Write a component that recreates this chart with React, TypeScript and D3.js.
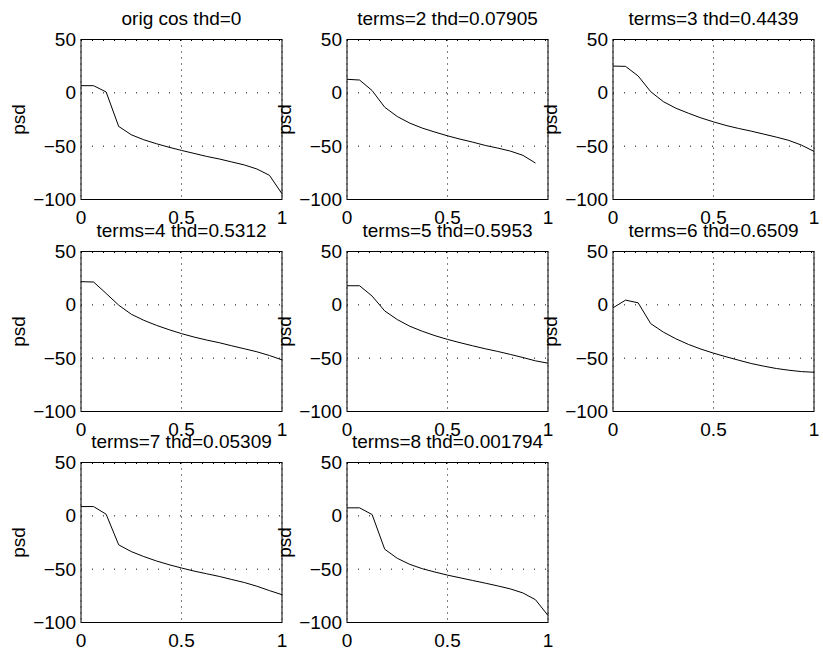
import React from "react";
import * as d3 from "d3";

const freq: number[] = [0, 0.0625, 0.125, 0.1875, 0.25, 0.3125, 0.375, 0.4375, 0.5, 0.5625, 0.625, 0.6875, 0.75, 0.8125, 0.875, 0.9375, 1];

const titles: string[] = [
  "orig cos thd=0",
  "terms=2 thd=0.07905",
  "terms=3 thd=0.4439",
  "terms=4 thd=0.5312",
  "terms=5 thd=0.5953",
  "terms=6 thd=0.6509",
  "terms=7 thd=0.05309",
  "terms=8 thd=0.001794",
];

const psdOrig: (number | null)[] = [6.7, 6.7, 0.8, -31.5, -39.3, -44, -47.7, -51, -54, -56.8, -59.6, -62, -64.8, -67.6, -71.4, -77.3, -94.7];
const psdT2: (number | null)[] = [12.7, 12, 2.1, -13.5, -22.2, -28.4, -33.1, -36.8, -40.3, -43.4, -46.2, -49.3, -51.8, -54.6, -58.6, -65.8, null];
const psdT3: (number | null)[] = [25.1, 24.8, 15.8, 1.1, -8.2, -14.4, -19.1, -23.5, -27.2, -30.6, -33.4, -35.9, -38.7, -41.5, -44.6, -49, -54.9];
const psdT4: (number | null)[] = [21.7, 21.4, 10.7, -0.3, -8.8, -14.5, -19.2, -23.3, -27, -30.2, -33, -35.5, -38.4, -41.2, -44, -47.5, -51.6];
const psdT5: (number | null)[] = [17.9, 17.9, 8.2, -5.7, -13.8, -20.1, -24.8, -28.9, -32.4, -35.5, -38.4, -41.2, -43.7, -46.5, -49.4, -52.5, -54.7];
const psdT6: (number | null)[] = [-2.8, 4.4, 1.9, -17.6, -25.5, -31.8, -37.1, -41.5, -45.3, -48.7, -51.9, -55, -57.5, -59.7, -61.3, -62.6, -63.2];
const psdT7: (number | null)[] = [8.7, 8.7, 1.5, -27.2, -33.5, -38.2, -42.3, -45.8, -48.9, -51.8, -54.3, -56.8, -59.7, -62.5, -66, -70.1, -73.9];
const psdT8: (number | null)[] = [7.5, 7.5, 1.2, -31.3, -39.8, -45.5, -49.6, -52.7, -55.6, -58.1, -60.6, -63.1, -65.7, -68.5, -72.3, -78.6, -93.4];

const series = [psdOrig, psdT2, psdT3, psdT4, psdT5, psdT6, psdT7, psdT8];

const xTicks: number[] = [0, 0.5, 1];
const xTickLabels: string[] = ["0", "0.5", "1"];
const yTicks: number[] = [50, 0, -50, -100];
const yTickLabels: string[] = ["50", "0", "\u221250", "\u2212100"];
const yLabel = "psd";

const W = 823;
const H = 650;
const colLeft = [81, 347, 613];
const rowTop = [39.5, 251.5, 462.5];
const axW = 201;
const axH = 160;
const FONT = "'Liberation Sans', Arial, Helvetica, sans-serif";
const FS = 19;

function Panel({ idx }: { idx: number }) {
  const col = idx % 3;
  const row = Math.floor(idx / 3);
  const x0 = colLeft[col];
  const y0 = rowTop[row];
  const x = d3.scaleLinear().domain([0, 1]).range([x0, x0 + axW]);
  const y = d3.scaleLinear().domain([-100, 50]).range([y0 + axH, y0]);
  const data = series[idx];
  const line = d3
    .line<number | null>()
    .defined((d) => d !== null)
    .x((_, i) => x(freq[i]))
    .y((d) => y(d as number));
  return (
    <g>
      <rect x={x0} y={y0} width={axW} height={axH} fill="#fff" />
      {xTicks.map((t) => (
        <line key={"gx" + t} x1={x(t)} x2={x(t)} y1={y0} y2={y0 + axH} stroke="#000" strokeWidth={1} strokeDasharray="1,5" />
      ))}
      {yTicks.map((t) => (
        <line key={"gy" + t} x1={x0} x2={x0 + axW} y1={y(t) + (t === 50 ? 1 : 0)} y2={y(t) + (t === 50 ? 1 : 0)} stroke="#000" strokeWidth={1} strokeDasharray="1,10" />
      ))}
      <path d={line(data) || ""} fill="none" stroke="#000" strokeWidth={1} />
      <rect x={x0} y={y0} width={axW} height={axH} fill="none" stroke="#000" strokeWidth={1} />
      {xTicks.map((t, i) => (
        <text key={"xl" + t} x={x(t)} y={y0 + axH + 24} textAnchor="middle" fontSize={FS} fontFamily={FONT} fill="#000">
          {xTickLabels[i]}
        </text>
      ))}
      {yTicks.map((t, i) => (
        <text key={"yl" + t} x={x0 - 5} y={y(t)} dy="0.35em" textAnchor="end" fontSize={FS} fontFamily={FONT} fill="#000">
          {yTickLabels[i]}
        </text>
      ))}
      <text x={x0 - 56} y={y0 + axH / 2} transform={`rotate(-90 ${x0 - 56} ${y0 + axH / 2})`} textAnchor="middle" fontSize={FS} fontFamily={FONT} fill="#000">
        {yLabel}
      </text>
      <text x={x0 + axW / 2} y={y0 - 15} textAnchor="middle" fontSize={FS} fontFamily={FONT} fill="#000">
        {titles[idx]}
      </text>
    </g>
  );
}

export default function App() {
  return (
    <svg width={W} height={H} style={{ position: "absolute", left: 0, top: 0, background: "#fff" }}>
      <rect x={0} y={0} width={W} height={H} fill="#fff" />
      {series.map((_, i) => (
        <Panel key={i} idx={i} />
      ))}
    </svg>
  );
}
